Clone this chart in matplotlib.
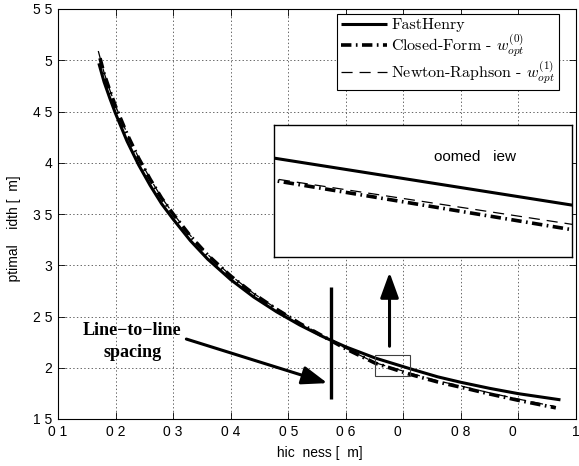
import numpy as np
import matplotlib
matplotlib.use('Agg')
import matplotlib.pyplot as plt
import matplotlib.patches as patches

plt.rcParams['font.family'] = ['Liberation Sans', 'DejaVu Sans']
plt.rcParams['mathtext.fontset'] = 'cm'
plt.rcParams['lines.scale_dashes'] = False

# data
fh_x = [0.171, 0.18, 0.19, 0.20, 0.22, 0.24, 0.26, 0.28, 0.30, 0.33, 0.36, 0.40,
        0.44, 0.48, 0.52, 0.56, 0.60, 0.651, 0.712, 0.76, 0.80, 0.85, 0.90, 0.973]
fh_y = [4.97, 4.79, 4.63, 4.48, 4.21, 3.98, 3.78, 3.60, 3.45, 3.24, 3.06, 2.86,
        2.69, 2.545, 2.417, 2.304, 2.204, 2.095, 1.99, 1.911, 1.858, 1.799, 1.747, 1.687]

cf_x = [0.173, 0.18, 0.19, 0.20, 0.22, 0.24, 0.26, 0.28, 0.30, 0.33, 0.36, 0.40,
        0.44, 0.48, 0.52, 0.56, 0.60, 0.651, 0.712, 0.76, 0.80, 0.85, 0.90, 0.965]
cf_y = [5.02, 4.87, 4.705, 4.55, 4.28, 4.045, 3.84, 3.655, 3.50, 3.285, 3.10, 2.895,
        2.72, 2.57, 2.432, 2.309, 2.185, 2.045, 1.935, 1.861, 1.81, 1.744, 1.682, 1.609]

nr_x = [0.170, 0.18, 0.19, 0.20, 0.22, 0.24, 0.26, 0.28, 0.30, 0.33, 0.36, 0.40,
        0.44, 0.48, 0.52, 0.56, 0.60, 0.651, 0.712, 0.76, 0.80, 0.85, 0.90, 0.965]
nr_y = [5.09, 4.88, 4.71, 4.555, 4.285, 4.05, 3.845, 3.66, 3.505, 3.29, 3.105, 2.90,
        2.725, 2.575, 2.437, 2.314, 2.19, 2.049, 1.947, 1.872, 1.822, 1.755, 1.694, 1.62]

xticks = [0.1, 0.2, 0.3, 0.4, 0.5, 0.6, 0.7, 0.8, 0.9, 1.0]
xtick_labels = ['0 1', '0 2', '0 3', '0 4', '0 5', '0 6', '0 \u2007', '0 8', '0 \u2007', '1']
yticks = [1.5, 2.0, 2.5, 3.0, 3.5, 4.0, 4.5, 5.0, 5.5]
ytick_labels = ['1 5', '2', '2 5', '3', '3 5', '4', '4 5', '5', '5 5']

# annotation geometry (data units)
zoom_box = (0.651, 1.919, 0.061, 0.205)
zoom_xlim = (0.651, 0.712)
zoom_ylim = (1.874, 2.169)
spacing_bar = (0.575, 1.70, 2.79)
spacing_arrow = ((0.323, 2.28), (0.568, 1.85))
zoom_arrow = ((0.676, 2.21), (0.676, 2.93))

fig = plt.figure(figsize=(5.79, 4.66), dpi=100)
ax = fig.add_axes([58/579, 47/466, 518/579, 410/466])

lbl_fh = 'FastHenry'
lbl_cf = r'Closed-Form - $w_{opt}^{(0)}$'
lbl_nr = r'Newton-Raphson - $w_{opt}^{(1)}$'

def draw_curves(a):
    a.plot(fh_x, fh_y, color='k', lw=2.2, solid_capstyle='butt', label=lbl_fh)
    a.plot(cf_x, cf_y, color='k', lw=2.6, dash_capstyle='butt',
           linestyle=(0, (7.5, 3.2, 1.2, 3.2)), label=lbl_cf)
    a.plot(nr_x, nr_y, color='k', lw=0.9, dash_capstyle='butt',
           linestyle=(0, (8, 5)), label=lbl_nr)

draw_curves(ax)

ax.set_xlim(0.1, 1.0)
ax.set_ylim(1.5, 5.5)
ax.set_xticks(xticks)
ax.set_xticklabels(xtick_labels)
ax.set_yticks(yticks)
ax.set_yticklabels(ytick_labels)
ax.tick_params(direction='in', top=True, right=True, length=5, width=0.6,
               labelsize=10, pad=4)
ax.grid(True, linestyle=':', color='0.4', linewidth=0.7)
for s in ax.spines.values():
    s.set_linewidth(0.8)

ax.set_xlabel(' hic  ness [  m]', fontsize=10)
ax.set_ylabel('   ptimal    idth [  m]', fontsize=10)
ax.xaxis.set_label_coords(0.502, -0.066)
ax.yaxis.set_label_coords(-0.071, 0.45)

leg = ax.legend(loc='upper right', bbox_to_anchor=(559/579, 1 - 14/466),
                bbox_transform=fig.transFigure, borderaxespad=0,
                fancybox=False, framealpha=1, edgecolor='k',
                prop={'family': 'cmr10', 'size': 11.5},
                handlelength=2.9, handletextpad=0.25, labelspacing=0.05,
                borderpad=0.25)
leg.get_frame().set_linewidth(0.8)

# annotations
ax.add_patch(patches.Rectangle(zoom_box[:2], zoom_box[2], zoom_box[3],
                               fill=False, edgecolor='0.25', lw=0.8, zorder=5))
ax.plot([spacing_bar[0], spacing_bar[0]], spacing_bar[1:], color='k', lw=2.4,
        solid_capstyle='butt')
for (p0, p1) in (spacing_arrow, zoom_arrow):
    ax.add_patch(patches.FancyArrowPatch(p0, p1, arrowstyle='-|>,head_length=1.1,head_width=0.4',
                                         mutation_scale=14, color='k', lw=2.2,
                                         shrinkA=0, shrinkB=0, zorder=6))
ax.text(0.229, 2.36, 'Line\u2212to\u2212line', fontsize=13, fontweight='bold',
        family='Liberation Serif', ha='center', va='center')
ax.text(0.229, 2.15, 'spacing', fontsize=13, fontweight='bold',
        family='Liberation Serif', ha='center', va='center')

# zoomed view inset
axin = fig.add_axes([274/579, (466 - 257)/466, 298/579, 132/466])
draw_curves(axin)
axin.set_xlim(*zoom_xlim)
axin.set_ylim(*zoom_ylim)
axin.set_xticks([])
axin.set_yticks([])
for s in axin.spines.values():
    s.set_linewidth(1.0)
axin.text(0.675, 0.76, 'oomed   iew', transform=axin.transAxes, fontsize=11,
          ha='center', va='center')

fig.savefig('out.png', dpi=100)
